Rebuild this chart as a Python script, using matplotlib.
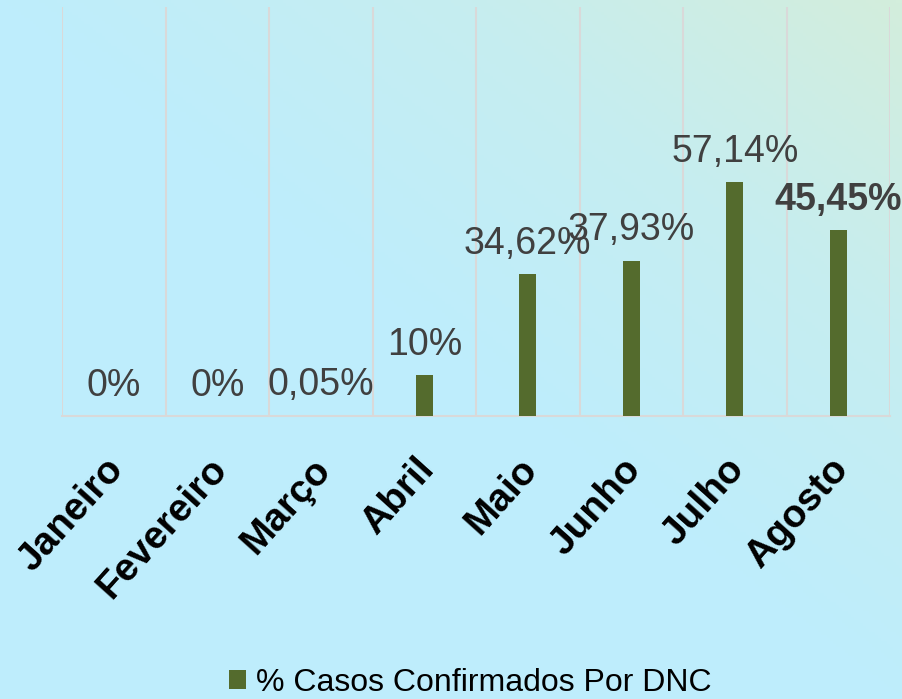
import matplotlib
matplotlib.use("Agg")
import matplotlib.pyplot as plt
import numpy as np
from matplotlib.colors import LinearSegmentedColormap

months = ["Janeiro", "Fevereiro", "Março", "Abril", "Maio", "Junho", "Julho", "Agosto"]
values = [0, 0, 0.05, 10, 34.62, 37.93, 57.14, 45.45]
labels = ["0%", "0%", "0,05%", "10%", "34,62%", "37,93%", "57,14%", "45,45%"]
series_name = "% Casos Confirmados Por DNC"

plt.rcParams['font.family'] = ['Liberation Sans', 'DejaVu Sans']

fig = plt.figure(figsize=(9.02, 6.99), dpi=100)

# background gradient
bg = fig.add_axes([0, 0, 1, 1], zorder=-10)
nx, ny = 300, 230
xn = np.linspace(0, 1, nx)[None, :]
ytop = np.linspace(1, 0, ny)[:, None]
t = np.clip((xn + ytop - 1.0) * 1.0, 0, 1)
cmap = LinearSegmentedColormap.from_list("bg", ["#BEEDFC", "#C6EDF0", "#D3EEDC"])
bg.imshow(t, cmap=cmap, aspect='auto', extent=[0, 1, 0, 1], vmin=0, vmax=1)
bg.axis('off')

ax = fig.add_axes([62/902, 1-416/699, (890-62)/902, (416-7)/699])
ax.patch.set_alpha(0)
x = np.arange(len(months))
bars = ax.bar(x, values, width=0.165, color="#546B2D", label=series_name, zorder=3)

ax.set_xlim(-0.5, len(months) - 0.5)
ax.set_ylim(0, 100)
ax.set_yticks([])
ax.set_xticks(x)
ax.set_xticks(np.arange(-0.5, len(months), 1.0), minor=True)
ax.grid(True, which='minor', axis='x', color='#D9D9D9', linewidth=1.5, zorder=0)
ax.tick_params(axis='x', which='both', length=0)
ax.set_xticklabels(months, rotation=48, ha='right', rotation_mode='anchor',
                   fontsize=28, fontweight='bold', color='black')
for lbl in ax.get_xticklabels():
    lbl.set_transform(lbl.get_transform() + matplotlib.transforms.ScaledTranslation(-7/72, -22/72, fig.dpi_scale_trans))

for s in ['top', 'left', 'right']:
    ax.spines[s].set_visible(False)
ax.spines['bottom'].set_color('#D9D9D9')
ax.spines['bottom'].set_linewidth(1.5)

for i, (v, lab) in enumerate(zip(values, labels)):
    bold = (i == len(values) - 1)
    ax.annotate(lab, (x[i], v), xytext=(0, 9), textcoords='offset points',
                ha='center', va='bottom', fontsize=27,
                fontweight='bold' if bold else 'normal', color='#404040',
                annotation_clip=False)

leg = fig.legend(handles=[bars], labels=[series_name], loc='center', bbox_to_anchor=(470/902, 1-683/699),
                 frameon=False, fontsize=23, handlelength=0.55, handleheight=0.55, handletextpad=0.3,
                 borderpad=0.1)

fig.savefig("out.png", dpi=100)
